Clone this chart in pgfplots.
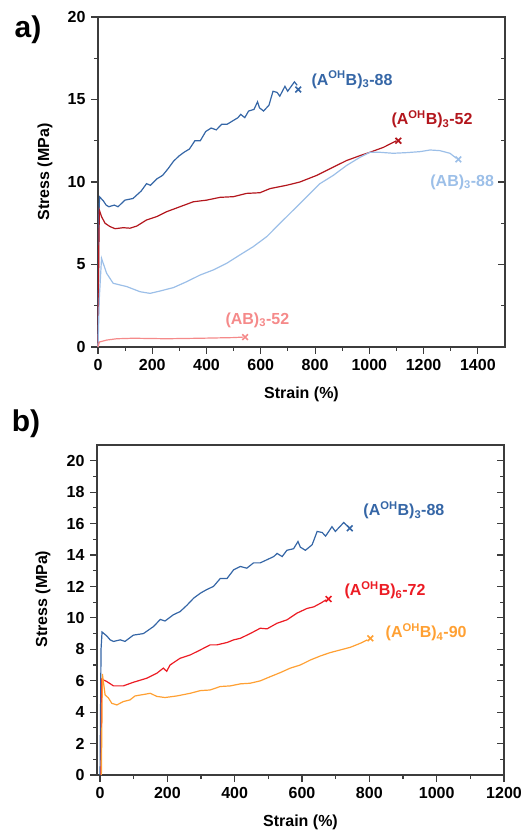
\documentclass[border=0pt]{standalone}
\usepackage{fontspec}
\setmainfont{Liberation Sans}
\usepackage{pgfplots}
\pgfplotsset{compat=1.18}
\definecolor{dblue}{HTML}{3566A6}
\definecolor{dred}{HTML}{B3161D}
\definecolor{lblue}{HTML}{9CBFE8}
\definecolor{pink}{HTML}{F58A8A}
\definecolor{bred}{HTML}{EC1C24}
\definecolor{orng}{HTML}{FFA033}
\definecolor{axgray}{HTML}{3C3C3C}
\pgfplotstableread{
x y
0 0
3 8.0
6 9.1
20 8.85
30 8.6
40 8.5
60 8.6
74 8.5
99 8.9
129 9.0
159 9.45
179 9.9
193 9.8
218 10.2
238 10.4
258 10.8
278 11.25
298 11.57
317 11.8
337 12.0
357 12.5
377 12.5
397 13.06
417 13.27
436 13.16
456 13.5
476 13.5
496 13.7
516 13.9
526 14.1
541 13.9
555 14.3
575 14.4
588 14.86
595 14.5
610 14.3
630 14.65
645 15.5
660 15.43
670 15.2
689 15.8
699 15.5
724 16.07
734 15.86
}\tblue
\pgfplotstableread{
x y
0 0
3 6.0
5 8.3
13 7.9
26 7.5
44 7.3
63 7.17
93 7.23
118 7.2
143 7.33
179 7.7
216 7.9
253 8.2
302 8.5
351 8.8
400 8.9
450 9.07
499 9.11
548 9.31
597 9.35
634 9.6
695 9.8
744 10.0
806 10.4
867 10.9
916 11.3
966 11.6
1002 11.8
1052 12.1
1088 12.4
1100 12.5
}\tdred
\pgfplotstableread{
x y
0 0
5 3.0
13 5.37
32 4.46
56 3.86
106 3.66
155 3.35
192 3.25
228 3.39
278 3.6
327 3.96
376 4.36
425 4.67
474 5.07
523 5.58
572 6.08
622 6.69
671 7.5
720 8.3
769 9.1
818 9.9
867 10.4
916 11.0
966 11.5
1002 11.8
1039 11.8
1088 11.74
1138 11.78
1187 11.84
1224 11.94
1260 11.9
1297 11.74
1320 11.45
}\tlblue
\pgfplotstableread{
x y
0 0
5 0.3
32 0.42
69 0.5
130 0.53
253 0.5
376 0.53
499 0.57
535 0.6
}\tpink
\pgfplotstableread{
x y
3 0
5 6.1
20 5.95
40 5.67
69 5.67
99 5.9
139 6.16
169 6.48
188 6.8
198 6.6
208 7.0
238 7.43
268 7.64
298 7.96
327 8.28
347 8.28
377 8.43
397 8.6
417 8.7
446 9.0
476 9.34
496 9.3
526 9.66
555 9.87
585 10.3
615 10.6
635 10.7
655 10.93
672 11.15
}\tbred
\pgfplotstableread{
x y
4 0
7 6.43
15 5.1
25 4.9
35 4.56
50 4.46
69 4.67
89 4.78
104 5.03
139 5.16
149 5.2
169 5.0
193 4.93
228 5.03
268 5.2
298 5.37
327 5.41
357 5.63
387 5.67
417 5.8
446 5.84
476 5.99
506 6.26
536 6.52
565 6.8
595 7.0
625 7.32
655 7.58
684 7.79
714 7.96
744 8.13
774 8.39
794 8.6
}\torng
\pgfplotsset{
  base/.style={
    scale only axis,
    anchor=south west,
    axis line style={axgray, line width=1.2pt},
    every tick/.style={axgray, line width=1.1pt},
    major tick length=7pt,
    minor tick length=4pt,
    tick label style={font=\fontsize{16}{18}\selectfont\bfseries},
    /pgf/number format/assume math mode=true,
    /pgf/number format/1000 sep={},
    label style={font=\fontsize{16}{18}\selectfont\bfseries},
    every axis plot/.append style={line width=1.2pt},
  },
  main/.style={base,
    tick align=outside,
    xtick pos=bottom, ytick pos=left,
    xticklabel style={yshift=-2pt},
    yticklabel style={xshift=-2pt},
    xlabel={Strain (\%)},
    ylabel={Stress (MPa)},
  },
  over/.style={base,
    tick align=inside,
    xtick=\empty,
    ytick pos=right,
    yticklabels={},
    axis line style={draw=none},
  },
}
\begin{document}
\begin{tikzpicture}[x=1pt,y=1pt]
\useasboundingbox (0,0) rectangle (526,830);
\node[font=\fontsize{30}{32}\selectfont\bfseries] at (28,800) {a)};
\node[font=\fontsize{30}{32}\selectfont\bfseries] at (26,406) {b)};
% Panel a
\begin{axis}[main, at={(98pt,483pt)}, width=407pt, height=330pt,
  xmin=0, xmax=1500, ymin=0, ymax=20,
  xtick={0,200,...,1400}, ytick={0,5,...,20},
  minor x tick num=1, minor y tick num=1,
  xlabel style={at={(axis description cs:0.5,-0.145)}, anchor=center},
  ylabel style={at={(axis description cs:-0.13,0.53)}, anchor=center},
  clip=false]
\addplot[dblue, no marks] table {\tblue};
\addplot[dred, no marks] table {\tdred};
\addplot[lblue, no marks] table {\tlblue};
\addplot[pink, no marks] table {\tpink};
\addplot[dblue, only marks, mark=x, mark size=4pt, mark options={line width=1.6pt}] coordinates {(738,15.6)};
\addplot[dred, only marks, mark=x, mark size=4pt, mark options={line width=1.6pt}] coordinates {(1107,12.5)};
\addplot[lblue, only marks, mark=x, mark size=4pt, mark options={line width=1.6pt}] coordinates {(1328,11.37)};
\addplot[pink, only marks, mark=x, mark size=4pt, mark options={line width=1.6pt}] coordinates {(542,0.6)};
\node[dblue, anchor=west, font=\fontsize{16}{18}\selectfont\bfseries] at (axis cs:774,16.2) {(A\textsuperscript{OH}B)\textsubscript{3}-88};
\node[dred, anchor=west, font=\fontsize{16}{18}\selectfont\bfseries] at (axis cs:1069,13.8) {(A\textsuperscript{OH}B)\textsubscript{3}-52};
\node[lblue, anchor=west, font=\fontsize{16}{18}\selectfont\bfseries] at (axis cs:1212,10.0) {(AB)\textsubscript{3}-88};
\node[pink, anchor=west, font=\fontsize{16}{18}\selectfont\bfseries] at (axis cs:457,1.64) {(AB)\textsubscript{3}-52};
\end{axis}
\begin{axis}[over, at={(98pt,483pt)}, width=407pt, height=330pt,
  xmin=0, xmax=1500, ymin=0, ymax=20,
  ytick={0,5,...,20}, minor y tick num=1]
\end{axis}
% Panel b
\begin{axis}[main, at={(97pt,55pt)}, width=407pt, height=330pt,
  xmin=-9, xmax=1200, ymin=0, ymax=21,
  xtick={0,200,...,1200}, ytick={0,2,...,20},
  minor x tick num=1, minor y tick num=1,
  xlabel style={at={(axis description cs:0.5,-0.145)}, anchor=center},
  ylabel style={at={(axis description cs:-0.133,0.533)}, anchor=center},
  clip=false]
\addplot[dblue, no marks] table {\tblue};
\addplot[bred, no marks] table {\tbred};
\addplot[orng, no marks] table {\torng};
\addplot[dblue, only marks, mark=x, mark size=4pt, mark options={line width=1.6pt}] coordinates {(742,15.7)};
\addplot[bred, only marks, mark=x, mark size=4pt, mark options={line width=1.6pt}] coordinates {(679,11.2)};
\addplot[orng, only marks, mark=x, mark size=4pt, mark options={line width=1.6pt}] coordinates {(803,8.7)};
\node[dblue, anchor=west, font=\fontsize{16}{18}\selectfont\bfseries] at (axis cs:772,16.84) {(A\textsuperscript{OH}B)\textsubscript{3}-88};
\node[bred, anchor=west, font=\fontsize{16}{18}\selectfont\bfseries] at (axis cs:716,11.74) {(A\textsuperscript{OH}B)\textsubscript{6}-72};
\node[orng, anchor=west, font=\fontsize{16}{18}\selectfont\bfseries] at (axis cs:838,9.09) {(A\textsuperscript{OH}B)\textsubscript{4}-90};
\end{axis}
\begin{axis}[over, at={(97pt,55pt)}, width=407pt, height=330pt,
  xmin=-9, xmax=1200, ymin=0, ymax=21,
  ytick={0,2,...,20}, minor y tick num=1]
\end{axis}
\end{tikzpicture}
\end{document}
